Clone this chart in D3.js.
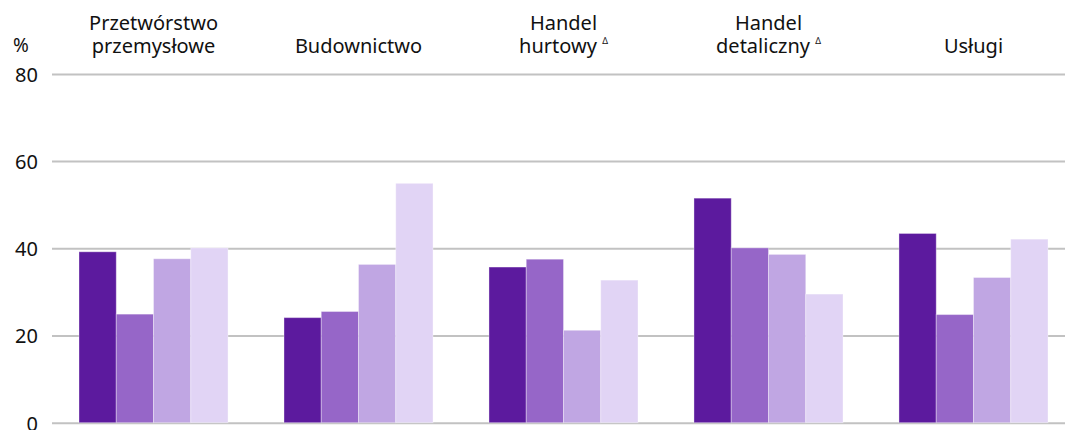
<!DOCTYPE html>
<html>
<head>
<meta charset="utf-8">
<script src="https://cdn.jsdelivr.net/npm/d3@7"></script>
<style>
  body { margin: 0; background: #fff; }
  svg { display: block; font-family: "Noto Sans", sans-serif; }
</style>
</head>
<body>
<div id="chart"></div>
<script>
// categories (two-line headers) and the four series, values in %
var categories = ['Przetwórstwo przemysłowe', 'Budownictwo', 'Handel hurtowy', 'Handel detaliczny', 'Usługi'];
var labelLines = [['Przetwórstwo', 'przemysłowe'], ['Budownictwo'], ['Handel', 'hurtowy'], ['Handel', 'detaliczny'], ['Usługi']];
var marked = [false, false, true, true, false];
var seriesNames = ['s1', 's2', 's3', 's4'];
var s1 = [39.2, 24.1, 35.7, 51.5, 43.4];
var s2 = [24.9, 25.5, 37.5, 40.1, 24.8];
var s3 = [37.6, 36.3, 21.2, 38.6, 33.3];
var s4 = [40.1, 54.9, 32.7, 29.5, 42.1];
var yTicks = [0, 20, 40, 60, 80];
var colors = ['#5c1a9e', '#9666c8', '#c0a6e3', '#e1d4f5'];

var W = 1065, H = 430;
var series = [s1, s2, s3, s4];

var svg = d3.select('#chart').append('svg')
    .attr('width', W)
    .attr('height', H);

var x = d3.scaleBand()
    .domain(categories)
    .range([51, 1076])
    .paddingInner(0.273)
    .paddingOuter(0.1366);

var xs = d3.scaleBand()
    .domain(seriesNames)
    .range([0, x.bandwidth()]);

var y = d3.scaleLinear()
    .domain([0, 80])
    .range([422.7, 73.9]);

// gridlines + tick labels
var axis = svg.append('g')
    .attr('transform', 'translate(52,0)')
    .call(d3.axisLeft(y).tickValues(yTicks).tickSize(-(W - 52)).tickFormat(d3.format('d')));
axis.select('.domain').remove();
axis.selectAll('line').attr('stroke', '#c2c2c2').attr('stroke-width', 2);
axis.selectAll('text')
    .attr('x', -14)
    .attr('dy', '0.37em')
    .attr('fill', '#111')
    .style('font-size', '20px')
    .style('font-family', '"Noto Sans", sans-serif');

svg.append('text')
    .attr('x', 13)
    .attr('y', 52)
    .attr('fill', '#111')
    .style('font-size', '19px')
    .text('%');

// bars
var groups = svg.selectAll('g.grp')
    .data(categories)
    .enter()
    .append('g')
    .attr('class', 'grp')
    .attr('transform', function(d) { return 'translate(' + x(d) + ',0)'; });

groups.selectAll('rect')
    .data(function(d, i) {
        return series.map(function(s, j) { return { key: seriesNames[j], v: s[i], c: colors[j] }; });
    })
    .enter()
    .append('rect')
    .attr('x', function(d) { return xs(d.key); })
    .attr('y', function(d) { return y(d.v); })
    .attr('width', xs.bandwidth())
    .attr('height', function(d) { return y(0) - y(d.v); })
    .attr('fill', function(d) { return d.c; })
    .attr('stroke', '#fff')
    .attr('stroke-opacity', 0.35)
    .attr('stroke-width', 1);

// category headers
categories.forEach(function(c, i) {
    var lines = labelLines[i];
    var cx = x(c) + x.bandwidth() / 2;
    var t = svg.append('text')
        .attr('text-anchor', 'middle')
        .attr('fill', '#111')
        .style('font-size', '20px');
    lines.forEach(function(l, k) {
        var ts = t.append('tspan')
            .attr('x', cx)
            .attr('y', 53 - (lines.length - 1 - k) * 23)
            .text(l);
        if (marked[i] && k === lines.length - 1) {
            ts.append('tspan').text('\u00a0');
            ts.append('tspan')
                .attr('dy', -9)
                .style('font-size', '9px')
                .text('\u0394');
        }
    });
});
</script>
</body>
</html>
